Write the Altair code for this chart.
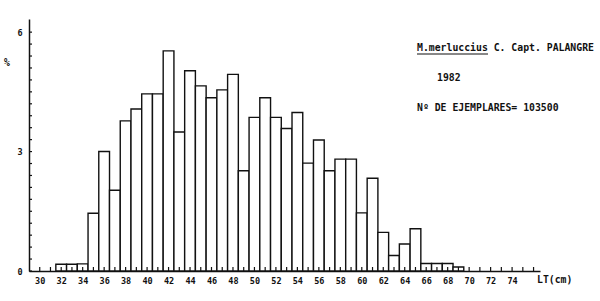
import altair as alt
import pandas as pd

# Data
lengths = list(range(32, 70))
percent = [0.17, 0.17, 0.18, 1.45, 3.00, 2.03, 3.77, 4.07, 4.45, 4.45,
           5.53, 3.49, 5.03, 4.65, 4.35, 4.55, 4.94, 2.52, 3.86, 4.35,
           3.86, 3.58, 3.98, 2.71, 3.29, 2.52, 2.81, 2.81, 1.46, 2.33,
           0.97, 0.39, 0.68, 1.06, 0.19, 0.19, 0.19, 0.10]
x_label_values = list(range(30, 75, 2))
x_tick_values = list(range(30, 77))
y_label_values = [0, 3, 6]
y_tick_values = [round(i * 0.3, 1) for i in range(21)]

title_species = "M.merluccius"
title_rest = " C. Capt. PALANGRE"
year_text = "1982"
count_text = "Nº DE EJEMPLARES= 103500"
x_title = "LT(cm)"
y_title = "%"

FONT = "DejaVu Sans Mono"
INK = "#111111"
W, H = 511, 252

df = pd.DataFrame({"LT": lengths, "pct": percent})
xs = alt.Scale(domain=[29, 76.6], nice=False, zero=False)
ys = alt.Scale(domain=[0, 6.33], nice=False, zero=False)

x_axis = alt.Axis(
    values=x_label_values, title=None, ticks=False, grid=False,
    labelFont=FONT, labelFontWeight="bold", labelFontSize=8.5,
    labelColor=INK, labelPadding=5, domainColor=INK, domainWidth=1.5,
    labelFlush=False, labelOverlap=False)
y_axis = alt.Axis(
    values=y_label_values, title=None, ticks=False, grid=False,
    labelFont=FONT, labelFontWeight="bold", labelFontSize=8.5,
    labelColor=INK, labelPadding=7, domainColor=INK, domainWidth=1.5,
    labelFlush=False, labelOverlap=False)

bars = alt.Chart(df).transform_calculate(
    x0="datum.LT - 0.5", x1="datum.LT + 0.5"
).mark_rect(fill="white", stroke=INK, strokeWidth=1.4).encode(
    x=alt.X("x0:Q", scale=xs, axis=x_axis),
    x2="x1:Q",
    y=alt.Y("pct:Q", scale=ys, axis=y_axis),
    y2=alt.datum(0),
)

xticks = alt.Chart(pd.DataFrame({"t": x_tick_values})).mark_rule(
    color=INK, strokeWidth=1.2).encode(
    x=alt.X("t:Q", scale=xs, axis=x_axis), y=alt.value(H), y2=alt.value(H - 4))

yticks = alt.Chart(pd.DataFrame({"t": y_tick_values})).mark_rule(
    color=INK, strokeWidth=1.2).encode(
    y=alt.Y("t:Q", scale=ys, axis=y_axis), x=alt.value(0), x2=alt.value(3))

one = pd.DataFrame({"a": [0]})


def label(text, x, y, align="left"):
    return alt.Chart(one).mark_text(
        font=FONT, fontSize=9.8, fontWeight="bold", color=INK,
        align=align, baseline="middle").encode(
        x=alt.value(x), y=alt.value(y), text=alt.value(text))


texts = [
    label(title_species + title_rest, 388, 29),
    label(year_text, 408, 59),
    label(count_text, 388, 89),
    label(x_title, 508, 261),
    label(y_title, -25, 44),
]
underline = alt.Chart(one).mark_rule(color=INK, strokeWidth=1.1).encode(
    x=alt.value(388), x2=alt.value(388 + 71), y=alt.value(35))

chart = alt.layer(bars, xticks, yticks, underline, *texts).properties(
    width=W, height=H,
    autosize=alt.AutoSizeParams(type="none"),
    padding={"left": 29, "top": 19, "right": 60, "bottom": 30},
    background="white",
).configure_view(stroke=None)

chart.save("out.html", embed_options={"renderer": "svg", "actions": False})
